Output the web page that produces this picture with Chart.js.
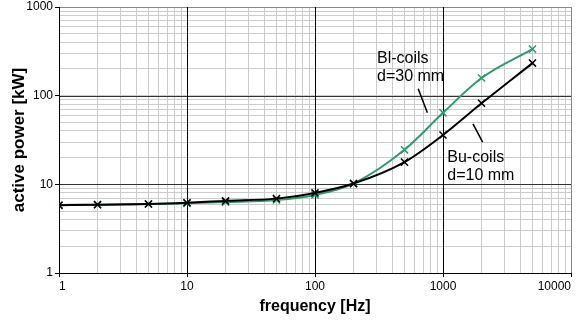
<!DOCTYPE html>
<html lang="en">
<head>
  <meta charset="UTF-8">
  <title>Active power vs frequency</title>
  <script src="https://cdn.jsdelivr.net/npm/chart.js"></script>
  <style>
    html, body { margin: 0; padding: 0; background: #fff; }
    #wrap { width: 579px; height: 320px; }
  </style>
</head>
<body>
  <div id="wrap"><canvas id="grafico" width="579" height="320"></canvas></div>

  <script>
    // frequencies [Hz]
    const frequencias = [1, 2, 5, 10, 20, 50, 100, 200, 500, 1000, 2000, 5000];
    // Bu-coils d=10 mm (black)
    const buCoils = [5.8, 5.9, 6.0, 6.2, 6.5, 6.9, 8.0, 10.2, 17.8, 36, 82, 233];
    // Bl-coils d=30 mm (green)
    const blCoils = [5.85, 5.9, 6.0, 6.1, 6.3, 6.65, 7.6, 10.2, 24.5, 64, 158, 335];

    const ticksX = [1, 10, 100, 1000, 10000];
    const ticksY = [1, 10, 100, 1000];

    // labels and leader lines, in data coordinates
    const textos = [
      { x: 305, y: 262, txt: 'Bl-coils' },
      { x: 305, y: 163, txt: 'd=30 mm' },
      { x: 1080, y: 20, txt: 'Bu-coils' },
      { x: 1080, y: 12.6, txt: 'd=10 mm' }
    ];
    const linhas = [
      { x1: 640, y1: 120, x2: 755, y2: 64 },
      { x1: 1715, y1: 48, x2: 2040, y2: 30 }
    ];

    const verde = '#2f9a6b';
    const menor = '#cccccc';
    const fonte = '"Liberation Sans", Arial, sans-serif';

    function filtrarTicks(scale) {
      scale.ticks = scale.ticks.filter(t => {
        const m = t.value / Math.pow(10, Math.floor(Math.log10(t.value) + 1e-9));
        return Math.abs(m - Math.round(m)) < 1e-6;
      });
    }

    // decade lines drawn over the light grid
    const decadas = {
      id: 'decadas',
      beforeDatasetsDraw(chart) {
        const ctx = chart.ctx;
        const a = chart.chartArea;
        const sx = chart.scales.x, sy = chart.scales.y;
        ctx.save();
        ctx.lineWidth = 1;
        ticksY.forEach(v => {
          const y = Math.round(sy.getPixelForValue(v)) + 0.5;
          ctx.strokeStyle = v === 1000 ? '#888' : (v === 1 ? '#000' : '#333');
          ctx.beginPath();
          ctx.moveTo(a.left, y);
          ctx.lineTo(a.right, y);
          ctx.stroke();
        });
        ticksX.forEach(v => {
          const x = Math.round(sx.getPixelForValue(v)) + 0.5;
          ctx.strokeStyle = v === 10000 ? '#888' : '#000';
          ctx.beginPath();
          ctx.moveTo(x, a.top);
          ctx.lineTo(x, a.bottom);
          ctx.stroke();
        });
        ctx.restore();
      }
    };

    const anotacoes = {
      id: 'anotacoes',
      afterDatasetsDraw(chart) {
        const ctx = chart.ctx;
        const sx = chart.scales.x, sy = chart.scales.y;
        ctx.save();
        ctx.strokeStyle = '#000';
        ctx.lineWidth = 1.5;
        linhas.forEach(l => {
          ctx.beginPath();
          ctx.moveTo(sx.getPixelForValue(l.x1), sy.getPixelForValue(l.y1));
          ctx.lineTo(sx.getPixelForValue(l.x2), sy.getPixelForValue(l.y2));
          ctx.stroke();
        });
        ctx.fillStyle = '#000';
        ctx.font = '16px ' + fonte;
        ctx.textAlign = 'left';
        ctx.textBaseline = 'middle';
        textos.forEach(t => {
          ctx.fillText(t.txt, sx.getPixelForValue(t.x), sy.getPixelForValue(t.y));
        });
        ctx.restore();
      }
    };

    const ctxGrafico = document.getElementById('grafico').getContext('2d');

    new Chart(ctxGrafico, {
      type: 'line',
      data: {
        datasets: [
          {
            label: 'Bu-coils d=10 mm',
            data: frequencias.map((f, i) => ({ x: f, y: buCoils[i] })),
            borderColor: '#000',
            backgroundColor: '#000',
            borderWidth: 2,
            pointStyle: 'crossRot',
            pointRadius: 5,
            pointBorderWidth: 1.5,
            cubicInterpolationMode: 'monotone',
            fill: false
          },
          {
            label: 'Bl-coils d=30 mm',
            data: frequencias.map((f, i) => ({ x: f, y: blCoils[i] })),
            borderColor: verde,
            backgroundColor: verde,
            borderWidth: 2,
            pointStyle: 'crossRot',
            pointRadius: 5,
            pointBorderWidth: 1.5,
            cubicInterpolationMode: 'monotone',
            fill: false
          }
        ]
      },
      options: {
        responsive: false,
        animation: false,
        layout: { padding: { left: 0, right: 8, top: 7, bottom: 0 } },
        plugins: {
          legend: { display: false },
          tooltip: { enabled: false }
        },
        scales: {
          x: {
            type: 'logarithmic',
            min: 1,
            max: 10000,
            afterBuildTicks: filtrarTicks,
            afterFit: s => { s.height = 47; s.paddingLeft = 0; s.paddingRight = 0; },
            border: { display: true, color: '#000', width: 1 },
            grid: {
              color: menor,
              lineWidth: 1,
              tickLength: 4,
              tickColor: c => (ticksX.includes(c.tick && c.tick.value) ? '#000' : 'rgba(0,0,0,0)')
            },
            ticks: {
              autoSkip: false,
              maxRotation: 0,
              align: 'inner',
              color: '#000',
              padding: 2,
              font: { family: fonte, size: 12 },
              callback: v => (ticksX.includes(v) ? String(v) : '')
            },
            title: {
              display: true,
              text: 'frequency [Hz]',
              color: '#000',
              padding: { top: 0, bottom: 4 },
              font: { family: fonte, size: 16, weight: 'bold' }
            }
          },
          y: {
            type: 'logarithmic',
            min: 1,
            max: 1000,
            afterBuildTicks: filtrarTicks,
            afterFit: s => { s.width = 59; s.paddingTop = 0; s.paddingBottom = 0; },
            border: { display: true, color: '#000', width: 1 },
            grid: {
              color: menor,
              lineWidth: 1,
              tickLength: 4,
              tickColor: c => (ticksY.includes(c.tick && c.tick.value) ? '#000' : 'rgba(0,0,0,0)')
            },
            ticks: {
              autoSkip: false,
              color: '#000',
              padding: 2,
              font: { family: fonte, size: 12 },
              callback: v => (ticksY.includes(v) ? String(v) : '')
            },
            title: {
              display: true,
              text: 'active power [kW]',
              color: '#000',
              padding: { top: 9, bottom: 0 },
              font: { family: fonte, size: 17, weight: 'bold' }
            }
          }
        }
      },
      plugins: [decadas, anotacoes]
    });
  </script>
</body>
</html>
